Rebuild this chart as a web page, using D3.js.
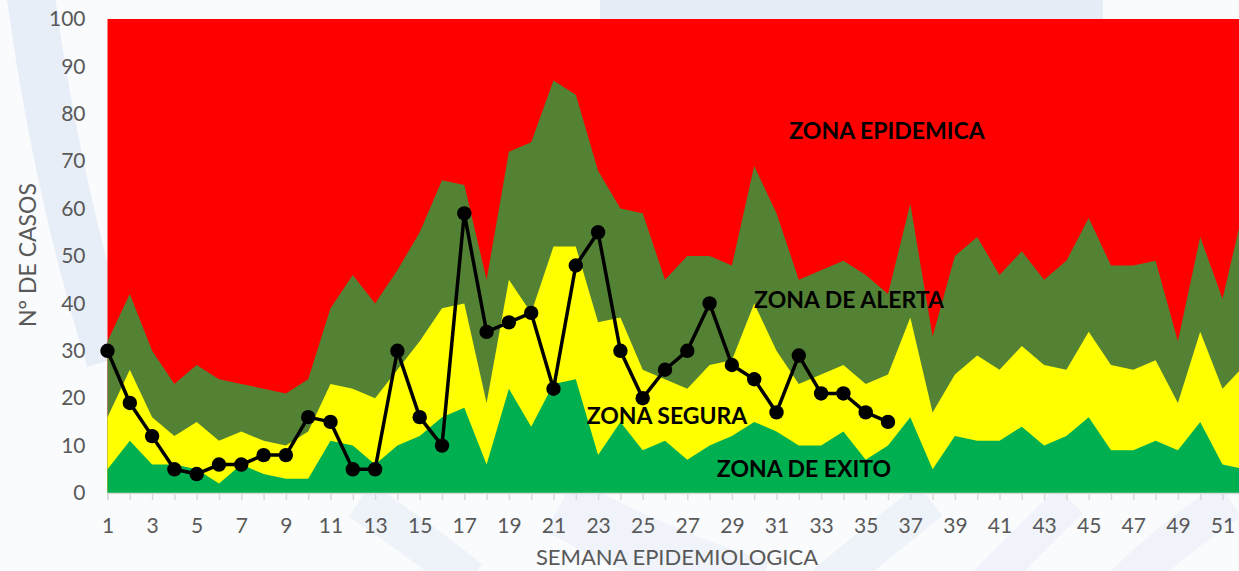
<!DOCTYPE html>
<html>
<head>
<meta charset="utf-8">
<script src="https://cdn.jsdelivr.net/npm/d3@7"></script>
<style>
  html, body { margin: 0; padding: 0; background: #f9fbfd; }
  svg { display: block; }
</style>
</head>
<body>
<svg id="chart" width="1239" height="571"></svg>
<script>
// Epidemiological weeks
const weeks = d3.range(1, 53);

// Upper limit of each zone per week (number of cases)
const exitoTop   = [5,11,6,6,5,2,6,4,3,3,11,10,6,10,12,16,18,6,22,14,23,24,8,15,9,11,7,10,12,15,13,10,10,13,7,10,16,5,12,11,11,14,10,12,16,9,9,11,9,15,6,5];
const seguraTop  = [16,26,16,12,15,11,13,11,10,13,23,22,20,26,32,39,40,19,45,38,52,52,36,37,26,24,22,27,28,40,30,23,25,27,23,25,37,17,25,29,26,31,27,26,34,27,26,28,19,34,22,27];
const alertaTop  = [32,42,30,23,27,24,23,22,21,24,39,46,40,47,55,66,65,45,72,74,87,84,68,60,59,45,50,50,48,69,59,45,47,49,46,42,61,33,50,54,46,51,45,49,58,48,48,49,32,54,41,61];
const epidemicaTop = 100;

// Reported cases, weeks 1-36
const casesWeeks = d3.range(1, 37);
const cases = [30,19,12,5,4,6,6,8,8,16,15,5,5,30,16,10,59,34,36,38,22,48,55,30,20,26,30,40,27,24,17,29,21,21,17,15];

// Axis ticks
const yTicks = [0,10,20,30,40,50,60,70,80,90,100];

const svg = d3.select("#chart");

const x = d3.scaleLinear().domain([1, 52]).range([107.5, 107.5 + 51 * 22.3]);
const y = d3.scaleLinear().domain([0, 100]).range([493, 19]);

const FONT = "Lato, 'Open Sans', sans-serif";

// Soft watermark shapes in the background
const wm = svg.append("g").attr("fill", "none").attr("stroke", "#e4ebf6").attr("stroke-linecap", "butt");
wm.append("path").attr("d", "M 30 -10 Q 55 180 110 360").attr("stroke-width", 48).attr("opacity", 0.8);
wm.append("path").attr("d", "M 600 9 L 1103 9").attr("stroke-width", 22).attr("opacity", 0.9);
wm.append("path").attr("d", "M 360 500 Q 420 540 470 580").attr("stroke-width", 40).attr("opacity", 0.5);
wm.append("path").attr("d", "M 560 505 Q 660 560 760 590").attr("stroke-width", 60).attr("opacity", 0.45);
wm.append("path").attr("d", "M 820 590 Q 880 540 930 500").attr("stroke-width", 40).attr("opacity", 0.5);
wm.append("path").attr("d", "M 980 590 Q 1030 540 1070 500").attr("stroke-width", 36).attr("opacity", 0.45);
wm.append("path").attr("d", "M 1120 590 Q 1170 540 1230 500").attr("stroke-width", 40).attr("opacity", 0.45);

// Zone areas
const plot = svg.append("g");
const zone = (top) => d3.area()
  .x((d, i) => x(weeks[i]))
  .y0(y(0))
  .y1((d, i) => y(top(i)));

plot.append("path").datum(weeks)
  .attr("d", zone(() => epidemicaTop)).attr("fill", "#ff0000");
plot.append("path").datum(weeks)
  .attr("d", zone(i => alertaTop[i])).attr("fill", "#548235");
plot.append("path").datum(weeks)
  .attr("d", zone(i => seguraTop[i])).attr("fill", "#ffff00");
plot.append("path").datum(weeks)
  .attr("d", zone(i => exitoTop[i])).attr("fill", "#00b050");

// Zone labels
const labels = [
  { text: "ZONA EPIDEMICA", cx: 887, by: 139 },
  { text: "ZONA DE ALERTA", cx: 849, by: 308 },
  { text: "ZONA SEGURA",    cx: 667, by: 424 },
  { text: "ZONA DE EXITO",  cx: 804, by: 477 }
];
svg.append("g").selectAll("text").data(labels).join("text")
  .attr("x", d => d.cx).attr("y", d => d.by)
  .attr("text-anchor", "middle")
  .attr("font-family", FONT)
  .attr("font-weight", "bold")
  .attr("font-size", 23)
  .attr("fill", "#000")
  .text(d => d.text);

// X axis
const xAxis = d3.axisBottom(x)
  .tickValues(weeks)
  .tickSize(7)
  .tickPadding(18)
  .tickFormat(d => d % 2 === 1 ? d : "");
const gx = svg.append("g").attr("transform", `translate(0,${y(0)})`).call(xAxis);
gx.select(".domain").attr("stroke", "#d9d9d9").attr("stroke-width", 1.5);
gx.selectAll(".tick line").attr("stroke", "#d9d9d9").attr("stroke-width", 1.5);
gx.selectAll("text")
  .attr("font-family", FONT)
  .attr("font-size", 21)
  .attr("fill", "#595959");

// Y axis
const yAxis = d3.axisLeft(y).tickValues(yTicks).tickSize(0).tickPadding(22);
const gy = svg.append("g").attr("transform", `translate(${x(1)},0)`).call(yAxis);
gy.select(".domain").remove();
gy.selectAll("text")
  .attr("font-family", FONT)
  .attr("font-size", 21)
  .attr("fill", "#595959");

// Cases line with markers
const line = d3.line().x((d, i) => x(casesWeeks[i])).y(d => y(d));
svg.append("path").datum(cases)
  .attr("d", line)
  .attr("fill", "none")
  .attr("stroke", "#000")
  .attr("stroke-width", 3.5)
  .attr("stroke-linejoin", "round");
svg.append("g").selectAll("circle").data(cases).join("circle")
  .attr("cx", (d, i) => x(casesWeeks[i]))
  .attr("cy", d => y(d))
  .attr("r", 7.2)
  .attr("fill", "#000");

// Axis titles
svg.append("text")
  .attr("x", 677).attr("y", 565)
  .attr("text-anchor", "middle")
  .attr("font-family", FONT)
  .attr("font-size", 22)
  .attr("fill", "#595959")
  .text("SEMANA EPIDEMIOLOGICA");

svg.append("text")
  .attr("transform", "translate(36,255) rotate(-90)")
  .attr("text-anchor", "middle")
  .attr("font-family", FONT)
  .attr("font-size", 23)
  .attr("fill", "#595959")
  .text("N° DE CASOS");
</script>
</body>
</html>
